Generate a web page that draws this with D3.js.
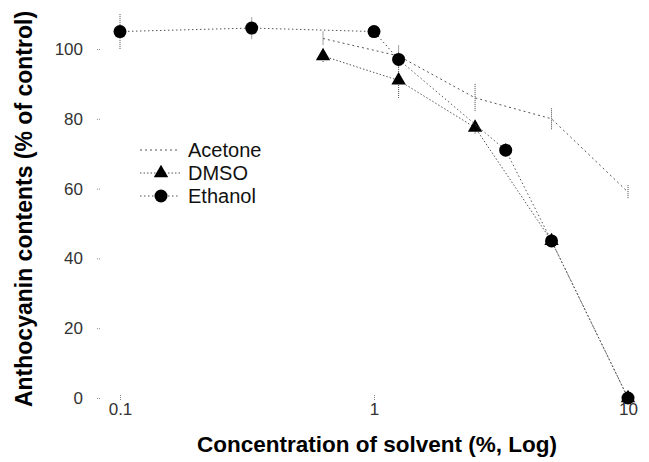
<!DOCTYPE html>
<html>
<head>
<meta charset="utf-8">
<script src="https://cdn.jsdelivr.net/npm/d3@7"></script>
<style>
  body { margin: 0; background: #fff; }
  text { font-family: "Liberation Sans", Arial, sans-serif; }
</style>
</head>
<body>
<div id="chart"></div>
<script>
// concentrations (%) and anthocyanin contents (% of control)
const acetoneX = [0.63, 1.25, 2.5, 5, 10];
const acetoneY = [103, 98, 86, 80, 59];
const acetoneErr = [2, 3, 4, 3, 2];

const dmsoX = [0.63, 1.25, 2.5, 5, 10];
const dmsoY = [98, 91, 77.5, 45, 0];
const dmsoErr = [2, 5, 2, 1, 1];

const ethanolX = [0.1, 0.33, 1, 1.25, 3.3, 5, 10];
const ethanolY = [105, 106, 105, 97, 71, 45, 0];
const ethanolErr = [5, 3, 1, 2, 2, 1, 1];

const xTicks = [0.1, 1, 10];
const yTicks = [0, 20, 40, 60, 80, 100];

const width = 649, height = 462;

const svg = d3.select("#chart").append("svg")
  .attr("width", width)
  .attr("height", height)
  .style("background", "#fff");

const x = d3.scaleLog().domain([0.1, 10]).range([120, 628]);
const y = d3.scaleLinear().domain([0, 100]).range([398, 49]);

// axes - no domain line, tiny ticks
svg.append("g")
  .attr("transform", "translate(100,0)")
  .call(d3.axisLeft(y).tickValues(yTicks).tickSize(3).tickPadding(14));

svg.append("g")
  .attr("transform", "translate(0,395)")
  .call(d3.axisBottom(x).tickValues(xTicks).tickSize(5).tickFormat(d => String(d)).tickPadding(3));

svg.selectAll(".domain").remove();
svg.selectAll(".tick line").attr("stroke", "#888").attr("stroke-dasharray", "1,1");
svg.selectAll(".tick text")
  .attr("fill", "#333")
  .style("font-size", "17px");

// axis titles
svg.append("text")
  .attr("transform", "translate(32,209) rotate(-90)")
  .attr("text-anchor", "middle")
  .style("font-size", "23px")
  .style("font-weight", "bold")
  .text("Anthocyanin contents (% of control)");

svg.append("text")
  .attr("x", 377)
  .attr("y", 452)
  .attr("text-anchor", "middle")
  .style("font-size", "22.5px")
  .style("font-weight", "bold")
  .text("Concentration of solvent (%, Log)");

const series = [
  { name: "Acetone", xs: acetoneX, ys: acetoneY, err: acetoneErr, marker: "cross", dash: "2,3" },
  { name: "DMSO", xs: dmsoX, ys: dmsoY, err: dmsoErr, marker: "triangle", dash: "1.5,2" },
  { name: "Ethanol", xs: ethanolX, ys: ethanolY, err: ethanolErr, marker: "circle", dash: "1.5,2.5" }
];

const line = d3.line().x(d => x(d[0])).y(d => y(d[1]));

function drawMarker(g, type, cx, cy) {
  if (type === "circle") {
    g.append("circle").attr("cx", cx).attr("cy", cy).attr("r", 6.5).attr("fill", "#000");
  } else if (type === "triangle") {
    g.append("path")
      .attr("d", d3.symbol().type(d3.symbolTriangle).size(90)())
      .attr("transform", `translate(${cx},${cy})`)
      .attr("fill", "#000");
  } else {
    g.append("path")
      .attr("d", d3.symbol().type(d3.symbolTimes).size(30)())
      .attr("transform", `translate(${cx},${cy})`)
      .attr("fill", "#444");
  }
}

series.forEach(s => {
  const pts = s.xs.map((v, i) => [v, s.ys[i], s.err[i]]);
  const g = svg.append("g");

  g.append("path")
    .datum(pts)
    .attr("d", line)
    .attr("fill", "none")
    .attr("stroke", "#555")
    .attr("stroke-width", 1)
    .attr("stroke-dasharray", s.dash);

  // error bars
  g.selectAll(".err")
    .data(pts)
    .join("line")
    .attr("x1", d => x(d[0]))
    .attr("x2", d => x(d[0]))
    .attr("y1", d => y(d[1] + d[2]))
    .attr("y2", d => y(d[1] - d[2]))
    .attr("stroke", "#444")
    .attr("stroke-dasharray", "1,1");

  pts.forEach(d => drawMarker(g, s.marker, x(d[0]), y(d[1])));
});

// legend
const legend = svg.append("g").attr("transform", "translate(140,150)");
series.forEach((s, i) => {
  const row = legend.append("g").attr("transform", `translate(0,${i * 23})`);
  row.append("line")
    .attr("x1", 0).attr("x2", 40)
    .attr("stroke", "#555")
    .attr("stroke-dasharray", s.dash);
  drawMarker(row, s.marker, 21, 0);
  row.append("text")
    .attr("x", 48)
    .attr("y", 7)
    .attr("fill", "#111")
    .style("font-size", "20px")
    .text(s.name);
});
</script>
</body>
</html>
